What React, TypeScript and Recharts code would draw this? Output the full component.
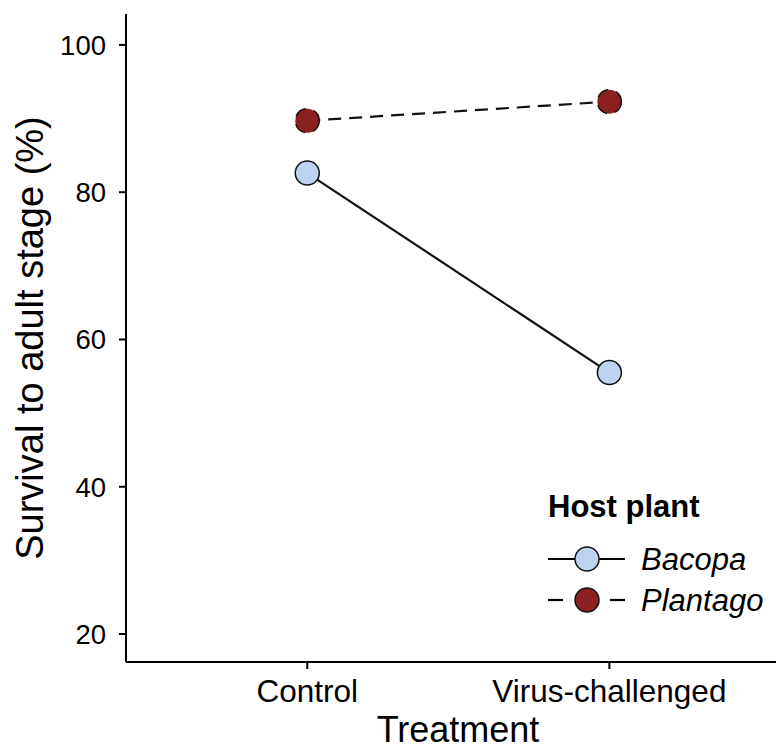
import { Line, LineChart, XAxis, YAxis } from "recharts";

const treatments = ["Control", "Virus-challenged"];
const bacopa = [82.6, 55.5];
const plantago = [89.7, 92.3];
const yTicks = [20, 40, 60, 80, 100];

const FONT = '"Liberation Sans", Arial, Helvetica, sans-serif';
const BACOPA_FILL = "#bdd3ef";
const PLANTAGO_FILL = "#8c1f1f";

const data = treatments.map((t, i) => ({ x: i + 1, name: t, bacopa: bacopa[i], plantago: plantago[i] }));

const series = [
  { key: "bacopa", label: "Bacopa", fill: BACOPA_FILL, dash: undefined },
  { key: "plantago", label: "Plantago", fill: PLANTAGO_FILL, dash: "13 8" },
];

// legend drawn as an overlay, Recharts' Legend would steal plot space
function HostLegend() {
  const x0 = 548;
  return (
    <svg
      width={784}
      height={749}
      style={{ position: "absolute", left: 0, top: 0, pointerEvents: "none" }}
      fontFamily={FONT}
    >
      <text x={x0} y={517} fontWeight="bold" fontSize={31} fill="#000">
        Host plant
      </text>
      {series.map((s, i) => {
        const cy = 559 + i * 41;
        return (
          <g key={s.key}>
            {s.dash ? (
              <>
                <line x1={x0} x2={x0 + 15} y1={cy} y2={cy} stroke="#000" strokeWidth={2.2} />
                <line x1={x0 + 62} x2={x0 + 77} y1={cy} y2={cy} stroke="#000" strokeWidth={2.2} />
              </>
            ) : (
              <line x1={x0} x2={x0 + 77} y1={cy} y2={cy} stroke="#000" strokeWidth={2.2} />
            )}
            <circle cx={x0 + 39} cy={cy} r={12} fill={s.fill} stroke="#111" strokeWidth={1.5} />
            <text x={x0 + 93} y={cy + 11} fontStyle="italic" fontSize={31} fill="#000">
              {s.label}
            </text>
          </g>
        );
      })}
    </svg>
  );
}

export default function App() {
  return (
    <div style={{ position: "relative", margin: "-8px 0 0 -8px", width: 784, height: 749, background: "#fff" }}>
      <LineChart width={784} height={749} data={data} margin={{ top: 14, right: 0, bottom: 0, left: 0 }}>
        <XAxis
          dataKey="x"
          type="number"
          domain={[0.4, 2.578]}
          ticks={[1, 2]}
          tickFormatter={(v: number) => treatments[v - 1]}
          height={87}
          tickSize={7}
          tickMargin={11}
          stroke="#000"
          strokeWidth={2}
          tick={{ fill: "#000", fontSize: 31.5, fontFamily: FONT }}
          label={{
            content: () => (
              <text x={458} y={742} textAnchor="middle" fontSize={36} fontFamily={FONT} fill="#000">
                Treatment
              </text>
            ),
          }}
        />
        <YAxis
          type="number"
          domain={[16.2, 104.2]}
          ticks={yTicks}
          width={126}
          tickSize={7}
          tickMargin={13}
          stroke="#000"
          strokeWidth={2}
          tick={{ fill: "#000", fontSize: 27.5, fontFamily: FONT }}
          label={{
            content: () => (
              <text
                x={43}
                y={338}
                transform="rotate(-90 43 338)"
                textAnchor="middle"
                fontSize={38}
                fontFamily={FONT}
                fill="#000"
              >
                Survival to adult stage (%)
              </text>
            ),
          }}
        />
        {series.map((s) => (
          <Line
            key={s.key}
            dataKey={s.key}
            stroke="#111"
            strokeWidth={2.2}
            strokeDasharray={s.dash}
            dot={{ r: 12, fill: s.fill, stroke: "#111", strokeWidth: 1.5 }}
            activeDot={false}
            isAnimationActive={false}
          />
        ))}
      </LineChart>
      <HostLegend />
    </div>
  );
}
